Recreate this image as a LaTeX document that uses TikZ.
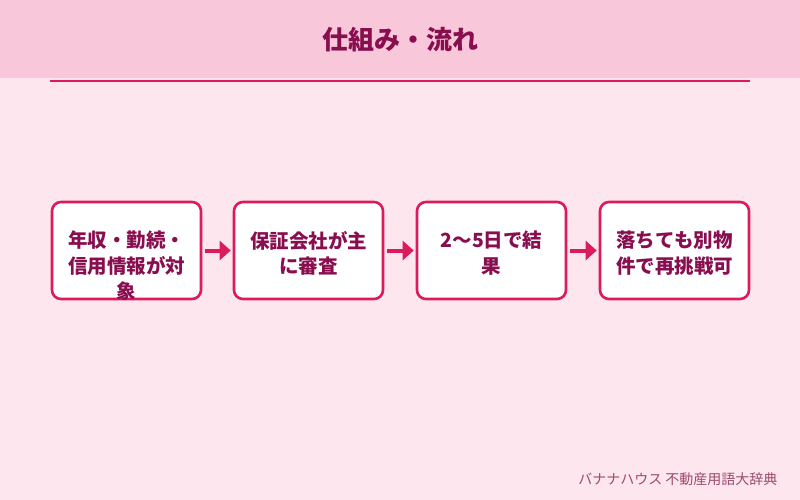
\documentclass[tikz,border=0pt]{standalone}
\usepackage{fontspec}
\usepackage{tikz}
\usetikzlibrary{arrows.meta,positioning}
\newfontfamily\jpfont{Noto Sans CJK JP}
\definecolor{pagebg}{HTML}{FDE6EE}
\definecolor{headbg}{HTML}{F8C7D9}
\definecolor{accent}{HTML}{DC1A5E}
\definecolor{darktext}{HTML}{880E4F}
\definecolor{softtext}{HTML}{9C4A6B}

\begin{document}
\begin{tikzpicture}[x=1pt, y=-1pt,
    stepbox/.style={draw=accent, line width=2.6pt, fill=white, rounded corners=9pt,
      minimum width=149pt, minimum height=97pt, inner sep=0pt},
    steptext/.style={text=darktext, align=center, inner sep=0pt, anchor=north,
      font=\jpfont\bfseries\fontsize{19.5}{25.5}\selectfont},
    flowarrow/.style={draw=accent, line width=4pt, -{Triangle[length=11pt, width=19pt]},
      shorten <=3pt, shorten >=2pt}]
  \useasboundingbox (0,0) rectangle (800,500);
  \fill[pagebg] (0,0) rectangle (800,500);
  \fill[headbg] (0,0) rectangle (800,78);
  \draw[accent, line width=2pt] (50,81) -- (750,81);
  \node[text=darktext, font=\jpfont\bfseries\fontsize{26}{30}\selectfont] (title) at (400,40) {仕組み・流れ};

  % steps
  \node[stepbox] (s1) at (126.5,250.5) {};
  \node[stepbox] (s2) at (308.5,250.5) {};
  \node[stepbox] (s3) at (491.5,250.5) {};
  \node[stepbox] (s4) at (674.5,250.5) {};
  \node[steptext] (t1) at (126.5,231) {年収・勤続・\\信用情報が対\\象};
  \node[steptext] (t2) at (308.5,231) {保証会社が主\\に審査};
  \node[steptext] (t3) at (491.5,231) {2〜5日で結\\果};
  \node[steptext] (t4) at (674.5,231) {落ちても別物\\件で再挑戦可};
  \draw[flowarrow] (s1) -- (s2);
  \draw[flowarrow] (s2) -- (s3);
  \draw[flowarrow] (s3) -- (s4);

  \node[text=softtext, anchor=east, font=\jpfont\fontsize{14}{16}\selectfont] (credit) at (781,479) {バナナハウス 不動産用語大辞典};
\end{tikzpicture}
\end{document}
